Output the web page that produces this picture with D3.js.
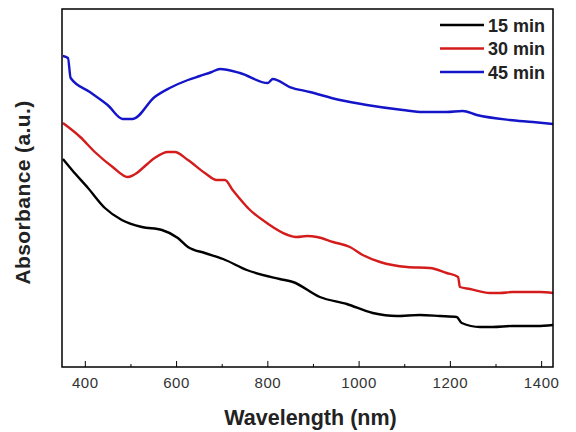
<!DOCTYPE html>
<html>
<head>
<meta charset="utf-8">
<script src="https://cdn.jsdelivr.net/npm/d3@7"></script>
<style>
  html, body { margin: 0; padding: 0; background: #fff; }
  svg { display: block; }
</style>
</head>
<body>
<svg id="chart" width="576" height="432"></svg>
<script>
// ---- Data ----
const seriesNames = ["15 min", "30 min", "45 min"];
const seriesColors = ["#000000", "#d41c1c", "#1414c8"];

const wl15 = [352, 372, 407, 444, 481, 525, 569, 604, 626, 663, 703, 755, 827, 856, 915, 974, 1031, 1084, 1134, 1178, 1215, 1226, 1266, 1294, 1338, 1391, 1426];
const abs15 = [2.08, 1.97, 1.79, 1.59, 1.47, 1.40, 1.37, 1.29, 1.20, 1.14, 1.08, 0.97, 0.88, 0.85, 0.70, 0.63, 0.54, 0.51, 0.52, 0.51, 0.50, 0.44, 0.40, 0.40, 0.41, 0.41, 0.42];

const wl30 = [352, 390, 422, 461, 494, 514, 527, 553, 582, 597, 626, 663, 689, 707, 724, 762, 799, 845, 865, 887, 909, 944, 981, 1009, 1047, 1106, 1156, 1193, 1218, 1222, 1244, 1288, 1310, 1338, 1397, 1426];
const abs30 = [2.44, 2.30, 2.15, 2.00, 1.90, 1.94, 1.99, 2.09, 2.15, 2.15, 2.07, 1.94, 1.87, 1.87, 1.77, 1.57, 1.44, 1.32, 1.30, 1.31, 1.30, 1.25, 1.20, 1.12, 1.05, 1.00, 0.99, 0.94, 0.90, 0.80, 0.78, 0.74, 0.74, 0.75, 0.75, 0.74];

const wl45 = [352, 363, 369, 411, 450, 483, 505, 553, 586, 626, 652, 678, 696, 740, 801, 812, 849, 893, 959, 1018, 1097, 1141, 1193, 1228, 1259, 1331, 1382, 1426];
const abs45 = [3.11, 3.09, 2.89, 2.75, 2.62, 2.48, 2.48, 2.70, 2.79, 2.87, 2.91, 2.95, 2.98, 2.94, 2.84, 2.88, 2.80, 2.75, 2.67, 2.62, 2.57, 2.55, 2.55, 2.56, 2.52, 2.47, 2.45, 2.43];

const majorTicks = [400, 600, 800, 1000, 1200, 1400];
const minorTicks = [500, 700, 900, 1100, 1300];
const xTitle = "Wavelength (nm)";
const yTitle = "Absorbance (a.u.)";

const series = [
  { name: seriesNames[0], color: seriesColors[0], x: wl15, y: abs15 },
  { name: seriesNames[1], color: seriesColors[1], x: wl30, y: abs30 },
  { name: seriesNames[2], color: seriesColors[2], x: wl45, y: abs45 }
];

// ---- Layout ----
const pL = 62, pR = 553, pT = 9, pB = 367;
const svg = d3.select("#chart");

const x = d3.scaleLinear().domain([350, 1426]).range([pL, pR]);
const y = d3.scaleLinear().domain([0, 3.58]).range([pB, pT]);

// curves
const line = d3.line().x(d => x(d[0])).y(d => y(d[1])).curve(d3.curveMonotoneX);
series.forEach(s => {
  svg.append("path")
    .datum(s.x.map((v, i) => [v, s.y[i]]))
    .attr("fill", "none")
    .attr("stroke", s.color)
    .attr("stroke-width", 2.4)
    .attr("stroke-linejoin", "round")
    .attr("d", line);
});

// frame
svg.append("rect")
  .attr("x", pL).attr("y", pT)
  .attr("width", pR - pL).attr("height", pB - pT)
  .attr("fill", "none").attr("stroke", "#000").attr("stroke-width", 1.5);

// bottom axis with inward ticks
const gx = svg.append("g").attr("transform", `translate(0,${pB})`);
gx.call(d3.axisBottom(x).tickValues(majorTicks).tickSizeInner(-6).tickSizeOuter(0).tickPadding(10).tickFormat(d3.format("d")));
gx.select(".domain").remove();
gx.selectAll(".tick line").attr("stroke", "#000").attr("stroke-width", 1);
gx.selectAll(".tick text")
  .attr("font-family", "Liberation Sans, Arial, sans-serif")
  .attr("font-size", 15)
  .attr("fill", "#333")
  .attr("letter-spacing", "0.6px");

const gm = svg.append("g").attr("transform", `translate(0,${pB})`);
gm.call(d3.axisBottom(x).tickValues(minorTicks).tickSizeInner(-3).tickSizeOuter(0).tickFormat(""));
gm.select(".domain").remove();
gm.selectAll(".tick line").attr("stroke", "#000").attr("stroke-width", 1);

// axis titles
svg.append("text")
  .attr("x", (pL + pR) / 2 + 3).attr("y", 425)
  .attr("text-anchor", "middle")
  .attr("font-family", "Liberation Sans, Arial, sans-serif")
  .attr("font-weight", "bold")
  .attr("font-size", 21.5)
  .attr("fill", "#222")
  .text(xTitle);

svg.append("text")
  .attr("transform", `translate(30,${(98 + 287) / 2}) rotate(-90)`)
  .attr("text-anchor", "middle")
  .attr("font-family", "Liberation Sans, Arial, sans-serif")
  .attr("font-weight", "bold")
  .attr("font-size", 21)
  .attr("letter-spacing", "0.4px")
  .attr("fill", "#222")
  .text(yTitle);

// legend
const lg = svg.append("g");
series.forEach((s, i) => {
  const cy = 25 + i * 23.5;
  lg.append("line")
    .attr("x1", 440).attr("x2", 484)
    .attr("y1", cy).attr("y2", cy)
    .attr("stroke", s.color).attr("stroke-width", 2.4);
  lg.append("text")
    .attr("x", 488).attr("y", cy + 6.5)
    .attr("font-family", "Liberation Sans, Arial, sans-serif")
    .attr("font-weight", "bold")
    .attr("font-size", 18)
    .attr("fill", "#222")
    .text(s.name);
});
</script>
</body>
</html>
